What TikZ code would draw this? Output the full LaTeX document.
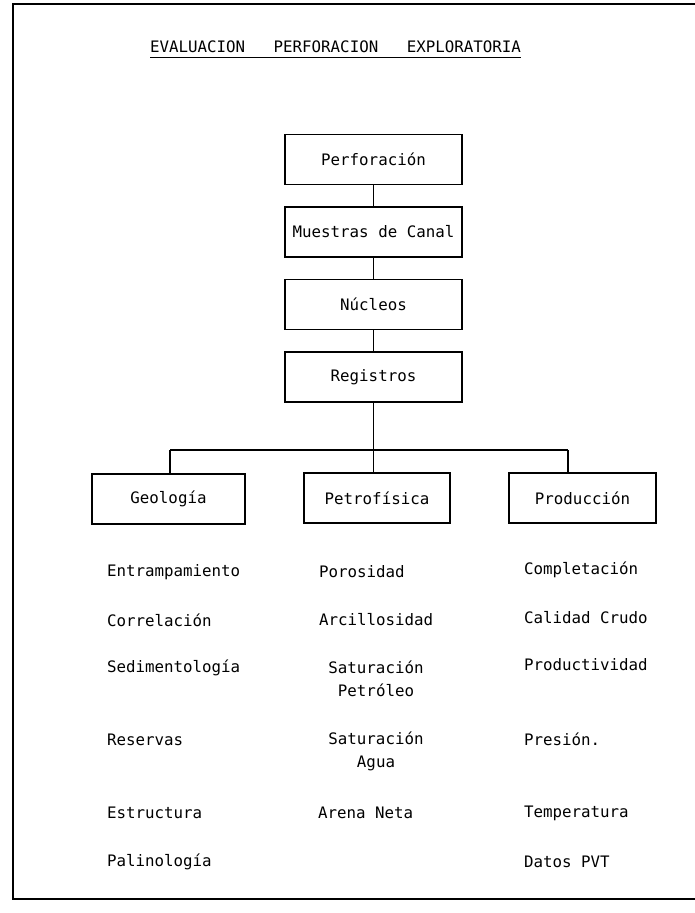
\documentclass[tikz,border=0pt]{standalone}
\usepackage{fontspec}
\setmainfont{DejaVu Sans Mono}
\usetikzlibrary{positioning}

\begin{document}
\begin{tikzpicture}[x=1pt, y=1pt, node distance={22.5pt}, line width=1.2pt,
        every node/.append style = {font=\fontsize{15.8}{23}\selectfont, outer sep=0pt},
        main/.style = {draw, minimum width=177pt, minimum height=50pt, inner sep=0pt},
        area/.style = {draw, minimum height=50pt, inner sep=0pt},
        item/.style = {anchor=west, inner sep=0pt, align=left},
        pair/.style = {inner sep=0pt, align=center}]
    \useasboundingbox (0,0) rectangle (695,-913);
    % frame of the page
    \draw[line width=2pt] (695,-4) -- (13,-4) -- (13,-899) -- (695,-899);

    \node[inner sep=0pt] (title) at (335.5,-47) {EVALUACION\ \ \ PERFORACION\ \ \ EXPLORATORIA};
    \draw[line width=1pt] ([yshift=-5pt]title.south west) -- ([yshift=-5pt]title.south east);

    \node[main] (1) at (373.5,-159.5) {Perforación};
    \node[main] (2) [below=of 1]      {Muestras de Canal};
    \node[main] (3) [below=of 2]      {Núcleos};
    \node[main] (4) [below=of 3]      {Registros};

    \node[area, minimum width=153pt] (5) at (168.5,-499) {Geología};
    \node[area, minimum width=146pt] (6) at (377,-498)   {Petrofísica};
    \node[area, minimum width=147pt] (7) at (582.5,-498) {Producción};

    \coordinate (bl) at (170,-450);
    \coordinate (br) at (568,-450);

    \draw (1) -- (2);
    \draw (2) -- (3);
    \draw (3) -- (4);
    \draw (4.south) -- (4.south |- bl);
    \draw (bl) -- (br);
    \draw (bl) -- (bl |- 5.north);
    \draw (4.south |- bl) -- (4.south |- 6.north);
    \draw (br) -- (br |- 7.north);

    % Geologia
    \node[item] (g1) at (107,-572) {Entrampamiento};
    \node[item] (g2) at (107,-620) {Correlación};
    \node[item] (g3) at (107,-668) {Sedimentología};
    \node[item] (g4) at (107,-740) {Reservas};
    \node[item] (g5) at (107,-813) {Estructura};
    \node[item] (g6) at (107,-862) {Palinología};

    % Petrofisica
    \node[item] (p1) at (319,-572) {Porosidad};
    \node[item] (p2) at (319,-620) {Arcillosidad};
    \node[pair] (p3) at (376,-679) {Saturación\\Petróleo};
    \node[pair] (p4) at (376,-751.5) {Saturación\\Agua};
    \node[item] (p5) at (318,-813) {Arena Neta};

    % Produccion
    \node[item] (r1) at (524,-570) {Completación};
    \node[item] (r2) at (524,-618) {Calidad Crudo};
    \node[item] (r3) at (524,-665) {Productividad};
    \node[item] (r4) at (524,-739) {Presión.};
    \node[item] (r5) at (524,-813) {Temperatura};
    \node[item] (r6) at (524,-862) {Datos PVT};
\end{tikzpicture}
\end{document}
